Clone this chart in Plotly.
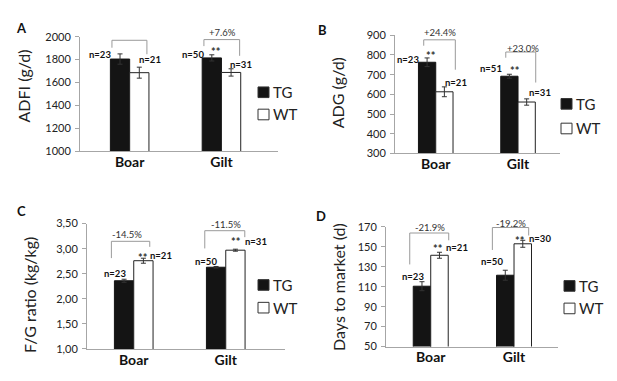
import plotly.graph_objects as go

W, H = 617, 381
FONT = "Lato"

# ---------------- data ----------------
categories = ["Boar", "Gilt"]
cat_pos = [0, 1]
groups = ["TG", "WT"]

adfi_tg = [1805, 1815]
adfi_tg_err = [45, 27]
adfi_wt = [1686, 1688]
adfi_wt_err = [48, 32]

adg_tg = [763, 692]
adg_tg_err = [22, 10]
adg_wt = [613, 561]
adg_wt_err = [25, 16]

fg_tg = [2.36, 2.63]
fg_tg_err = [0.03, 0.015]
fg_wt = [2.76, 2.97]
fg_wt_err = [0.05, 0.02]

dtm_tg = [110.5, 121.5]
dtm_tg_err = [4.5, 5]
dtm_wt = [141.5, 153]
dtm_wt_err = [3, 3.5]

adfi_ticks = [1000, 1200, 1400, 1600, 1800, 2000]
adg_ticks = [300, 400, 500, 600, 700, 800, 900]
fg_ticks = [1.0, 1.5, 2.0, 2.5, 3.0, 3.5]
fg_ticktext = ["1,00", "1,50", "2,00", "2,50", "3,00", "3,50"]
dtm_ticks = [50, 70, 90, 110, 130, 150, 170]

# annotation texts
adfi_n = ["n=23", "n=21", "n=50", "n=31"]
adg_n = ["n=23", "n=21", "n=51", "n=31"]
fg_n = ["n=23", "n=21", "n=50", "n=31"]
dtm_n = ["n=23", "n=21", "n=50", "n=30"]
adfi_pct = ["+7.6%"]
adg_pct = ["+24.4%", "+23.0%"]
fg_pct = ["-14.5%", "-11.5%"]
dtm_pct = ["-21.9%", "-19.2%"]

# ---------------- layout / placement (not data) ----------------
BW = 0.21
panels = [
    dict(letter="A", letter_px=(13, 13), title="ADFI (g/d)", title_px=(15, 74),
         tg=adfi_tg, tge=adfi_tg_err, wt=adfi_wt, wte=adfi_wt_err,
         yr=[1000, 2000], tv=adfi_ticks, tt=[str(v) for v in adfi_ticks],
         xpx=(72, 270), ypx=(141, 22.5), xr=[-0.541, 1.616],
         brackets=[(-0.193, 1904, 1969, 0.188, 1847), (0.809, 1918, 1975, 1.198, 1833)],
         pct=adfi_pct, pct_pos=[(1.016, 2036)],
         n=adfi_n, n_pos=[(-0.327, 1845), (0.218, 1799), (0.69, 1847), (1.209, 1757)],
         stars=[(0.943, 1896)],
         leg_px=(250, 80, 103)),
    dict(letter="B", letter_px=(314, 16), title="ADG (g/d)", title_px=(329, 81),
         tg=adg_tg, tge=adg_tg_err, wt=adg_wt, wte=adg_wt_err,
         yr=[300, 900], tv=adg_ticks, tt=[str(v) for v in adg_ticks],
         xpx=(387, 552), ypx=(143.3, 21), xr=[-0.495, 1.510],
         brackets=[(-0.146, 847, 877, 0.238, 725), (0.851, 786, 815, 1.215, 660)],
         pct=adg_pct, pct_pos=[(0.049, 916), (1.061, 835)],
         n=adg_n, n_pos=[(-0.337, 779), (0.25, 660), (0.676, 730), (1.264, 611)],
         stars=[(-0.053, 815), (0.96, 737)],
         leg_px=(553, 92, 117.5)),
    dict(letter="C", letter_px=(13, 203), title="F/G ratio (kg/kg)", title_px=(21, 290),
         tg=fg_tg, tge=fg_tg_err, wt=fg_wt, wte=fg_wt_err,
         yr=[1.0, 3.5], tv=fg_ticks, tt=fg_ticktext,
         xpx=(79, 277), ypx=(345.7, 216), xr=[-0.508, 1.644],
         brackets=[(-0.243, 2.812, 3.147, 0.174, 3.037), (0.772, 3.005, 3.359, 1.207, 3.23)],
         pct=fg_pct, pct_pos=[(-0.073, 3.274), (1.0, 3.487)],
         n=fg_n, n_pos=[(-0.207, 2.503), (0.3, 2.864), (0.789, 2.748), (1.326, 3.134)],
         stars=[(0.101, 2.889), (1.115, 3.211)],
         leg_px=(250, 279.5, 303)),
    dict(letter="D", letter_px=(313, 208), title="Days to market (d)", title_px=(331, 281.5),
         tg=dtm_tg, tge=dtm_tg_err, wt=dtm_wt, wte=dtm_wt_err,
         yr=[50, 170], tv=dtm_ticks, tt=[str(v) for v in dtm_ticks],
         xpx=(378, 550), ypx=(343.3, 219.3), xr=[-0.537, 1.528],
         brackets=[(-0.252, 132.3, 163.8, 0.216, 156.5), (0.74, 146.8, 169.3, 1.176, 161.3)],
         pct=dtm_pct, pct_pos=[(-0.012, 169.3), (0.968, 173.5)],
         n=dtm_n, n_pos=[(-0.212, 120.3), (0.319, 149), (0.74, 134.8), (1.308, 158.7)],
         stars=[(0.088, 150.9), (1.068, 159.6)],
         leg_px=(556, 280.5, 303.8)),
]


def px_x(x):
    return x / W


def px_y(y):
    return 1 - y / H


fig = go.Figure()
annotations = []
shapes = []
layout_axes = {}

for i, p in enumerate(panels):
    sfx = "" if i == 0 else str(i + 1)
    xa, ya = "x" + sfx, "y" + sfx
    err_style = dict(type="data", thickness=1, width=2.5, color="#333")
    fig.add_trace(go.Bar(
        x=cat_pos, y=p["tg"], name=groups[0], width=BW, offset=-BW,
        marker=dict(color="#141414", line=dict(color="#141414", width=1)),
        error_y=dict(array=p["tge"], **err_style),
        xaxis=xa, yaxis=ya, showlegend=False))
    fig.add_trace(go.Bar(
        x=cat_pos, y=p["wt"], name=groups[1], width=BW, offset=0,
        marker=dict(color="white", line=dict(color="#222", width=1)),
        error_y=dict(array=p["wte"], **err_style),
        xaxis=xa, yaxis=ya, showlegend=False))

    layout_axes["xaxis" + sfx] = dict(
        domain=[px_x(p["xpx"][0]), px_x(p["xpx"][1])], range=p["xr"],
        tickvals=cat_pos, ticktext=categories, showline=True, linecolor="#a6a6a6",
        linewidth=1, ticks="", showgrid=False, zeroline=False, anchor=ya,
        tickfont=dict(family=FONT, size=14, color="#111", weight="bold"),
        ticklabelstandoff=-2, fixedrange=True)
    layout_axes["yaxis" + sfx] = dict(
        domain=[px_y(p["ypx"][0]), px_y(p["ypx"][1])], range=p["yr"],
        tickvals=p["tv"], ticktext=p["tt"], showline=True, linecolor="#a6a6a6",
        linewidth=1, ticks="outside", ticklen=4, tickcolor="#a6a6a6",
        showgrid=False, zeroline=False, anchor=xa,
        tickfont=dict(family=FONT, size=11, color="#222"),
        ticklabelstandoff=2, fixedrange=True)

    y0, y1 = p["yr"]

    def dom(v):
        return (v - y0) / (y1 - y0)

    # brackets
    for (xl, ylb, ytop, xr_, yrb) in p["brackets"]:
        shapes.append(dict(
            type="path", xref=xa, yref=ya,
            path=f"M {xl},{ylb} L {xl},{ytop} L {xr_},{ytop} L {xr_},{yrb}",
            line=dict(color="#9a9a9a", width=1)))
    for txt, (x, y) in zip(p["pct"], p["pct_pos"]):
        annotations.append(dict(text=txt, x=x, y=dom(y), xref=xa, yref=ya + " domain",
                                showarrow=False, xanchor="center", yanchor="middle",
                                font=dict(family=FONT, size=9.5, color="#333")))
    for txt, (x, y) in zip(p["n"], p["n_pos"]):
        annotations.append(dict(text=txt, x=x, y=dom(y), xref=xa, yref=ya + " domain",
                                showarrow=False, xanchor="center", yanchor="middle",
                                font=dict(family=FONT, size=9.5, color="#111", weight="bold")))
    for (x, y) in p["stars"]:
        annotations.append(dict(text="**", x=x, y=dom(y), xref=xa, yref=ya + " domain",
                                showarrow=False, xanchor="center", yanchor="middle", yshift=-3,
                                font=dict(family=FONT, size=11, color="#333", weight="bold")))

    # panel letter
    lx, ly = p["letter_px"]
    annotations.append(dict(text=p["letter"], x=px_x(lx), y=px_y(ly), xref="paper", yref="paper",
                            showarrow=False, xanchor="center", yanchor="middle",
                            font=dict(family=FONT, size=13, color="#111", weight="bold")))
    # y title
    tx, ty = p["title_px"]
    annotations.append(dict(text=p["title"], x=px_x(tx), y=px_y(ty), xref="paper", yref="paper",
                            showarrow=False, xanchor="center", yanchor="middle", textangle=-90,
                            font=dict(family=FONT, size=16, color="#222")))
    # legend (manual)
    gx, gy_tg, gy_wt = p["leg_px"]
    for name, gy, fill in [(groups[0], gy_tg, "#141414"), (groups[1], gy_wt, "white")]:
        shapes.append(dict(type="rect", xref="paper", yref="paper",
                           x0=px_x(gx), x1=px_x(gx + 11), y0=px_y(gy + 5.5), y1=px_y(gy - 5.5),
                           fillcolor=fill, line=dict(color="#333", width=1)))
        annotations.append(dict(text=name, x=px_x(gx + 13), y=px_y(gy), xref="paper", yref="paper",
                                showarrow=False, xanchor="left", yanchor="middle",
                                font=dict(family=FONT, size=15, color="#222")))

fig.update_layout(
    width=W, height=H, margin=dict(l=0, r=0, t=0, b=0),
    paper_bgcolor="white", plot_bgcolor="white",
    barmode="overlay", showlegend=False,
    font=dict(family=FONT),
    shapes=shapes, annotations=annotations,
    **layout_axes)

fig.write_html("out.html")
